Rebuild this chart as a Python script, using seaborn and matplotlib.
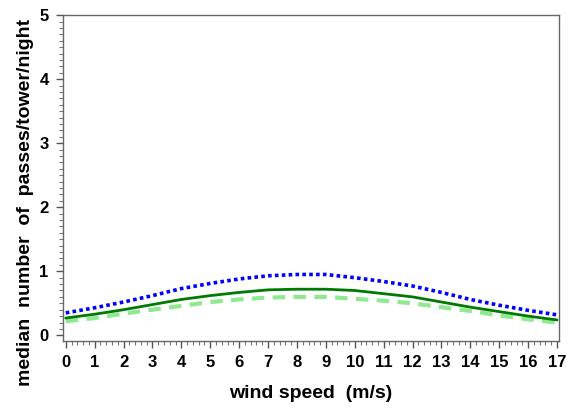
import matplotlib
matplotlib.use("Agg")
import matplotlib.pyplot as plt
import seaborn as sns
import pandas as pd
from matplotlib.ticker import MultipleLocator

wind = list(range(18))
blue_dotted = [0.35, 0.43, 0.52, 0.62, 0.73, 0.81, 0.88, 0.93, 0.95, 0.95, 0.90, 0.84, 0.77, 0.67, 0.56, 0.47, 0.39, 0.32]
green_solid = [0.27, 0.33, 0.40, 0.48, 0.56, 0.62, 0.67, 0.71, 0.72, 0.72, 0.70, 0.65, 0.60, 0.52, 0.44, 0.37, 0.30, 0.24]
light_dashed = [0.22, 0.27, 0.34, 0.40, 0.46, 0.52, 0.56, 0.59, 0.60, 0.60, 0.57, 0.54, 0.50, 0.44, 0.38, 0.31, 0.25, 0.20]

sns.set_style("white")
plt.rcParams['font.family'] = ['Liberation Sans', 'DejaVu Sans']
plt.rcParams['text.color'] = 'black'
plt.rcParams['axes.labelcolor'] = 'black'
plt.rcParams['xtick.color'] = 'black'
plt.rcParams['ytick.color'] = 'black'

fig = plt.figure(figsize=(5.69, 4.08), dpi=100)
ax = fig.add_axes([0.110, 0.164, 0.872, 0.799])

sns.lineplot(x=wind, y=light_dashed, ax=ax, color='#90e890', linewidth=3.0,
             linestyle=(0, (3, 2)))
sns.lineplot(x=wind, y=green_solid, ax=ax, color='#007a00', linewidth=2.0)
sns.lineplot(x=wind, y=blue_dotted, ax=ax, color='#0000ff', linewidth=2.6,
             linestyle=(0, (1, 0.9)))

ax.set_xlim(-0.11, 17.06)
ax.set_ylim(-0.09, 5.0)
ax.xaxis.set_major_locator(MultipleLocator(1))
ax.xaxis.set_minor_locator(MultipleLocator(0.2))
ax.yaxis.set_major_locator(MultipleLocator(1))
ax.yaxis.set_minor_locator(MultipleLocator(0.1))
ax.tick_params(axis='both', which='major', direction='out', length=5, width=1,
               color='#555555', labelcolor='black', labelsize=12, pad=5)
ax.tick_params(axis='both', which='minor', direction='out', length=3, width=0.8,
               color='#777777')
ax.tick_params(bottom=True, left=True, which='both')
for lab in ax.get_xticklabels() + ax.get_yticklabels():
    lab.set_fontweight('bold')
for s in ax.spines.values():
    s.set_color('#666666')
    s.set_linewidth(1.0)

ax.set_xlabel('wind speed  (m/s)', fontsize=14, fontweight='bold', labelpad=11, color='black')
ax.set_ylabel('')
fig.text(26 / 569, 1 - 202 / 408, 'median  number  of  passes/tower/night',
         rotation=90, ha='center', va='center', fontsize=14, fontweight='bold',
         color='black')

fig.savefig('out.png', dpi=100)
